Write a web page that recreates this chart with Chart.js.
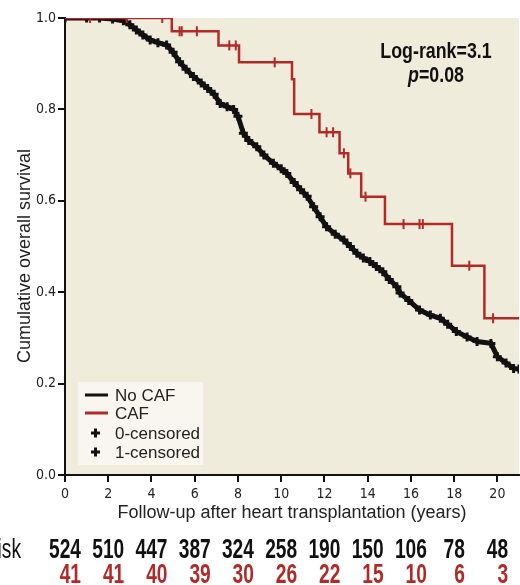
<!DOCTYPE html>
<html>
<head>
<meta charset="utf-8">
<script src="https://cdn.jsdelivr.net/npm/chart.js@4.4.1/dist/chart.umd.min.js"></script>
<style>
  html, body { margin: 0; padding: 0; background: #fff; }
</style>
</head>
<body>
<canvas id="km" width="520" height="585"></canvas>
<script>
// No CAF curve (years, survival)
const noCafTime = [0, 1.0, 1.6, 2.2, 2.7, 3.0, 3.3, 3.6, 3.94, 4.3, 4.7, 5.0, 5.3, 5.6, 5.94, 6.3, 6.6, 6.9, 7.18, 7.5, 7.8, 8.0, 8.25, 8.5, 8.87, 9.2, 9.64, 10.0, 10.26, 10.6, 10.9, 11.2, 11.5, 11.8, 12.1, 12.5, 12.9, 13.2, 13.5, 13.8, 14.1, 14.4, 14.7, 15.0, 15.35, 15.5, 15.9, 16.4, 16.9, 17.36, 17.7, 18.1, 18.6, 19.06, 19.7, 20.0, 20.4, 20.75, 21];
const noCafSurv = [1.0, 1.0, 1.0, 0.998, 0.994, 0.985, 0.974, 0.963, 0.952, 0.946, 0.941, 0.925, 0.904, 0.888, 0.872, 0.858, 0.846, 0.833, 0.813, 0.806, 0.800, 0.785, 0.748, 0.732, 0.718, 0.700, 0.682, 0.670, 0.660, 0.640, 0.624, 0.610, 0.587, 0.565, 0.543, 0.527, 0.514, 0.500, 0.485, 0.475, 0.467, 0.456, 0.445, 0.428, 0.412, 0.398, 0.382, 0.361, 0.350, 0.343, 0.330, 0.314, 0.302, 0.292, 0.288, 0.259, 0.245, 0.233, 0.232];

// CAF step curve
const cafTime = [0, 4.94, 7.1, 8.05, 10.5, 10.6, 11.77, 12.7, 13.1, 13.7, 14.8, 17.9, 19.4, 21];
const cafSurv = [1.0, 0.971, 0.94, 0.903, 0.866, 0.79, 0.75, 0.704, 0.66, 0.609, 0.549, 0.458, 0.343, 0.343];

// CAF censoring ticks
const cafCensTime = [1.16, 2.85, 4.5, 5.3, 5.4, 6.1, 7.6, 7.9, 9.7, 11.4, 12.1, 12.4, 12.9, 13.2, 13.9, 15.66, 16.4, 16.55, 18.7, 19.8];
const cafCensSurv = [1.0, 1.0, 1.0, 0.971, 0.971, 0.971, 0.94, 0.94, 0.903, 0.79, 0.75, 0.75, 0.704, 0.66, 0.609, 0.549, 0.549, 0.549, 0.458, 0.343];

const xTicks = [0, 2, 4, 6, 8, 10, 12, 14, 16, 18, 20];
const yTicks = [0, 0.2, 0.4, 0.6, 0.8, 1.0];

const riskTimes = [0, 2, 4, 6, 8, 10, 12, 14, 16, 18, 20];
const riskNoCaf = [524, 510, 447, 387, 324, 258, 190, 150, 106, 78, 48];
const riskCaf = [41, 41, 40, 39, 30, 26, 22, 15, 10, 6, 3];

const legendLabels = ["No CAF", "CAF", "0-censored", "1-censored"];
const yTitle = "Cumulative overall survival";
const statLine1 = "Log-rank=3.1";
const statLine2 = "=0.08";

const black = "#111";
const red = "#b22a27";
const beige = "#f0ecdb";
const narrow = '"Liberation Sans Narrow", "DejaVu Sans Condensed", sans-serif';

function pairs(xs, ys) {
  return xs.map((x, i) => ({ x: x, y: ys[i] }));
}

function scaledText(ctx, text, x, y, font, color, align, sx) {
  ctx.save();
  ctx.translate(x, y);
  ctx.scale(sx, 1);
  ctx.font = font;
  ctx.fillStyle = color;
  ctx.textAlign = align;
  ctx.textBaseline = "alphabetic";
  ctx.fillText(text, 0, 0);
  ctx.restore();
}

const backdrop = {
  id: "backdrop",
  beforeDraw(chart) {
    const { ctx, chartArea: a } = chart;
    ctx.save();
    ctx.fillStyle = beige;
    ctx.fillRect(a.left, a.top, a.right - a.left, a.bottom - a.top);
    ctx.restore();
  }
};

const overlay = {
  id: "overlay",
  afterDraw(chart) {
    const ctx = chart.ctx;
    const xs = chart.scales.x;

    // y axis title, sits a bit below the axis middle like the original
    ctx.save();
    ctx.translate(25, 256);
    ctx.rotate(-Math.PI / 2);
    ctx.font = '18px "Liberation Sans", sans-serif';
    ctx.fillStyle = "#222";
    ctx.textAlign = "center";
    ctx.textBaseline = "middle";
    ctx.fillText(yTitle, 0, 0);
    ctx.restore();

    // legend box
    ctx.save();
    ctx.fillStyle = "#f8f6ee";
    ctx.fillRect(78, 382, 125, 83);
    const rows = [395, 413, 433, 452];
    ctx.font = '17px "Liberation Sans", sans-serif';
    ctx.textBaseline = "middle";
    ctx.fillStyle = "#222";
    legendLabels.forEach((t, i) => ctx.fillText(t, 115, rows[i] + 1));
    ctx.lineWidth = 3;
    ctx.strokeStyle = black;
    ctx.beginPath(); ctx.moveTo(85, rows[0]); ctx.lineTo(108, rows[0]); ctx.stroke();
    ctx.strokeStyle = red;
    ctx.beginPath(); ctx.moveTo(85, rows[1]); ctx.lineTo(108, rows[1]); ctx.stroke();
    ctx.strokeStyle = black;
    [rows[2], rows[3]].forEach(y => {
      ctx.beginPath();
      ctx.moveTo(91, y); ctx.lineTo(100, y);
      ctx.moveTo(95.5, y - 4.5); ctx.lineTo(95.5, y + 4.5);
      ctx.stroke();
    });
    ctx.restore();

    // log-rank text
    const bold = 'bold 22px "Liberation Sans", sans-serif';
    scaledText(ctx, statLine1, 436, 58, bold, black, "center", 0.81);
    ctx.save();
    ctx.font = bold;
    const w1 = ctx.measureText("p").width * 0.81;
    const w2 = ctx.measureText(statLine2).width * 0.81;
    ctx.restore();
    const start = 436 - (w1 + w2) / 2;
    scaledText(ctx, "p", start, 82, 'italic bold 22px "Liberation Sans", sans-serif', black, "left", 0.81);
    scaledText(ctx, statLine2, start + w1, 82, bold, black, "left", 0.81);

    // numbers at risk
    const nf = 'bold 27px "Liberation Sans", sans-serif';
    scaledText(ctx, "No. at risk", 21, 558, '27px "Liberation Sans", sans-serif', black, "right", 0.71);
    riskTimes.forEach((t, i) => {
      const px = xs.getPixelForValue(t);
      ctx.save();
      ctx.font = nf;
      const bw = ctx.measureText(String(riskNoCaf[i])).width * 0.71;
      ctx.restore();
      scaledText(ctx, String(riskNoCaf[i]), px, 558, nf, black, "center", 0.71);
      scaledText(ctx, String(riskCaf[i]), px + bw / 2, 583, nf, red, "right", 0.71);
    });
  }
};

new Chart(document.getElementById("km"), {
  type: "scatter",
  data: {
    datasets: [
      {
        label: "CAF censored",
        data: pairs(cafCensTime, cafCensSurv),
        showLine: false,
        pointStyle: "line",
        rotation: 90,
        pointRadius: 5,
        borderColor: red,
        borderWidth: 2
      },
      {
        label: "CAF",
        data: pairs(cafTime, cafSurv),
        showLine: true,
        stepped: true,
        borderColor: red,
        borderWidth: 2.5,
        pointRadius: 0
      },
      {
        label: "No CAF",
        data: pairs(noCafTime, noCafSurv),
        showLine: true,
        borderColor: black,
        backgroundColor: black,
        borderWidth: 5,
        pointStyle: "cross",
        pointRadius: 4.5,
        pointBorderWidth: 3,
        tension: 0
      }
    ]
  },
  options: {
    responsive: false,
    animation: false,
    devicePixelRatio: 1,
    layout: { autoPadding: false, padding: { top: 18, right: 1, bottom: 60, left: 0 } },
    plugins: { legend: { display: false }, tooltip: { enabled: false } },
    scales: {
      x: {
        type: "linear",
        min: 0,
        max: 21,
        afterBuildTicks: s => { s.ticks = xTicks.map(v => ({ value: v })); },
        afterFit: s => { s.height = 50; },
        ticks: { font: { family: narrow, size: 14 }, color: "#222", padding: 4, maxRotation: 0 },
        grid: { drawOnChartArea: false, drawTicks: true, tickLength: 7, tickColor: black, lineWidth: 2 },
        border: { display: true, color: black, width: 2 },
        title: {
          display: true,
          text: "Follow-up after heart transplantation (years)",
          font: { family: '"Liberation Sans", sans-serif', size: 18 },
          color: "#222",
          padding: { top: 0, bottom: 1 }
        }
      },
      y: {
        min: 0,
        max: 1,
        afterBuildTicks: s => { s.ticks = yTicks.map(v => ({ value: v })); },
        afterFit: s => { s.width = 65; },
        ticks: { font: { family: narrow, size: 14 }, color: "#222", padding: 2, callback: v => v.toFixed(1) },
        grid: { drawOnChartArea: false, drawTicks: true, tickLength: 7, tickColor: black, lineWidth: 2 },
        border: { display: true, color: black, width: 2 },
        title: { display: false }
      }
    }
  },
  plugins: [backdrop, overlay]
});
</script>
</body>
</html>
